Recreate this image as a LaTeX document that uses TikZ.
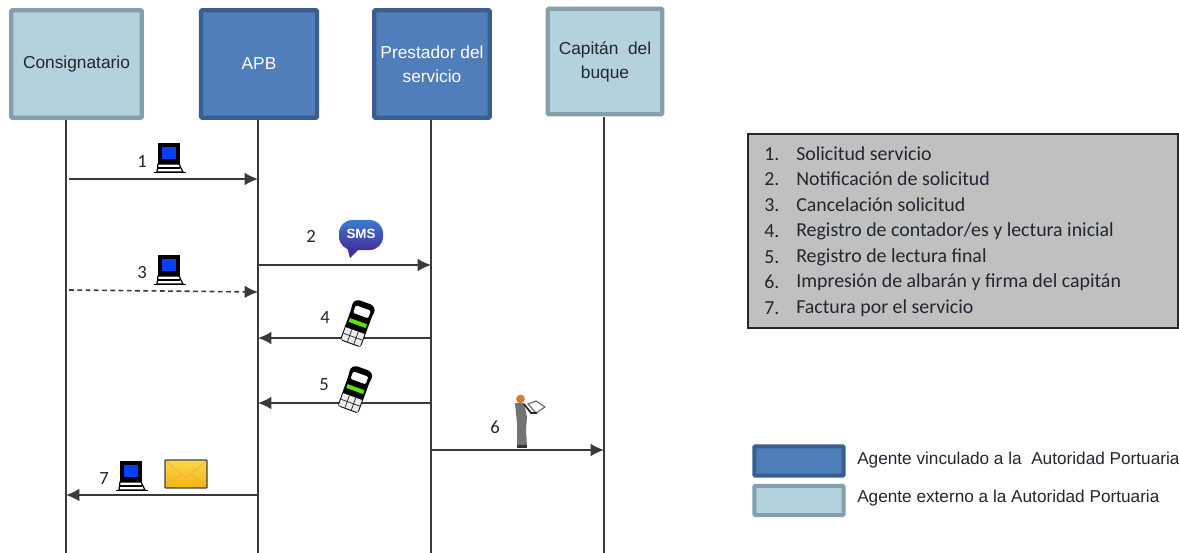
\documentclass[tikz,border=0pt]{standalone}
\usepackage{fontspec}
\setmainfont{Liberation Sans}
\newfontfamily\calfont{Carlito}
\usetikzlibrary{arrows.meta}
\definecolor{linecol}{HTML}{3A3A3A}
\definecolor{intfill}{HTML}{4F7EBA}
\definecolor{intedge}{HTML}{3A5F8E}
\definecolor{extfill}{HTML}{B4D2DE}
\definecolor{extedge}{HTML}{83A0AA}
\definecolor{notefill}{HTML}{C0C0C0}
\definecolor{textcol}{HTML}{22262E}
\definecolor{screenblue}{HTML}{0A40F5}
\definecolor{smstop}{HTML}{3C7AD2}
\definecolor{smsbot}{HTML}{43309E}
\definecolor{mailtop}{HTML}{FAD94A}
\definecolor{mailbot}{HTML}{F2B512}
\tikzset{
  intbox/.style={draw=intedge, fill=intfill, line width=3.2pt, rounded corners=0.8pt, text=white, align=center, font=\fontsize{13}{18}\selectfont},
  extbox/.style={draw=extedge, fill=extfill, line width=3.2pt, rounded corners=0.8pt, text=textcol, align=center, font=\fontsize{13}{18}\selectfont},
  swatch/.style={line width=3pt, rounded corners=0.8pt},
  life/.style={draw=linecol, line width=1.1pt},
  msg/.style={draw=linecol, line width=1.2pt, -{Latex[length=10pt,width=9.5pt]}},
  num/.style={text=textcol, font=\calfont\fontsize{14}{16}\selectfont},
  note/.style={text=textcol, anchor=west, font=\calfont\fontsize{14.9}{17}\selectfont},
  legendtxt/.style={text=textcol, anchor=west, font=\fontsize{12.9}{15}\selectfont},
  computer/.pic={
    \fill[black] (-12,-15) rectangle (10,7);
    \fill[screenblue] (-8,-11) rectangle (6,1);
    \draw[black, line width=0.9pt, fill=white] (-12,6) -- (9,6) -- (13,14) -- (-13,14) -- cycle;
    \draw[black, line width=0.8pt] (-13,10) -- (10,10);
    \draw[black, line width=1.4pt] (-16,14.5) -- (16,14.5);
  },
  phone/.pic={
    \fill[black, rounded corners=2pt] (-12,-19) -- (-8,-23) -- (8,-23) -- (12,-19) -- (11,-12) -- (11,21) -- (-11,21) -- (-11,-12) -- cycle;
    \fill[white, rounded corners=1pt] (-8,-17) rectangle (8,-9);
    \fill[green!60!yellow!90!black] (-9,-3) rectangle (9,1);
    \fill[gray!15] (-10,7) rectangle (10,20);
    \draw[black!80, line width=0.6pt] (-3.4,7) -- (-3.4,20) (3.4,7) -- (3.4,20) (-10,13.5) -- (10,13.5);
  },
  smsicon/.pic={
    \shade[top color=smstop, bottom color=smsbot, rounded corners=10pt]
      (-22,-15) rectangle (22,15);
    \fill[smsbot] (-14,12) -- (-11,23) -- (-2,14) -- cycle;
    \node[text=white, font=\bfseries\fontsize{10}{11}\selectfont] (-txt) at (0,-1) {SMS};
  },
  mailicon/.pic={
    \shade[top color=mailtop, bottom color=mailbot, draw=black!75, line width=1pt, rounded corners=0.6pt]
      (-21,-14) rectangle (21,14);
    \draw[orange!70!brown!70, line width=0.5pt] (-20,-13) -- (0,4) -- (20,-13) (-20,13) -- (-5,0) (20,13) -- (5,0);
  },
  captainicon/.pic={
    \fill[gray!90!black] (-10,-21) -- (-1,-21) -- (2,-7) -- (1,6) -- (2,22) -- (-8,22) -- (-8,-1) -- cycle;
    \fill[black!80] (-8,21) rectangle (2,24);
    \fill[brown!75!orange] (-4.5,-25) circle (4.4);
    \draw[black!60, line width=0.8pt, fill=white] (3,-20) -- (11,-23) -- (20,-17) -- (11,-11) -- cycle;
    \draw[black!85, line width=1.3pt] (-1,-20) -- (6,-11) -- (12,-11);
  },
}
\begin{document}
\begin{tikzpicture}[x=0.75pt,y=-0.75pt]
  \useasboundingbox (0,0) rectangle (1179,553);

  \node[extbox, minimum width=98pt, minimum height=80.5pt] (cons) at (76.5,64) {Consignatario};
  \node[intbox, minimum width=87pt, minimum height=80.5pt] (apb) at (259,64) {APB};
  \node[intbox, minimum width=86.5pt, minimum height=80.5pt] (prest) at (432,64) {Prestador del\\servicio};
  \node[extbox, minimum width=86pt, minimum height=79pt] (capt) at (605,61.5) {Capitán\ \ del\\buque};

  \coordinate (consend) at (66,553);
  \coordinate (apbend) at (258,553);
  \coordinate (prestend) at (431,553);
  \coordinate (captend) at (604,553);
  \coordinate (constop) at (66,120);
  \coordinate (apbtop) at (258,120);
  \coordinate (presttop) at (431,120);
  \coordinate (capttop) at (604,117);
  \draw[life] (constop) -- (consend);
  \draw[life] (apbtop) -- (apbend);
  \draw[life] (presttop) -- (prestend);
  \draw[life] (capttop) -- (captend);

  \coordinate (m1a) at (69,179);   \coordinate (m1b) at (258,179);
  \coordinate (m2a) at (258,265);  \coordinate (m2b) at (431,265);
  \coordinate (m3a) at (69,290);   \coordinate (m3b) at (258,292);
  \coordinate (m4a) at (431,338);  \coordinate (m4b) at (258,338);
  \coordinate (m5a) at (431,403);  \coordinate (m5b) at (258,403);
  \coordinate (m6a) at (431,450);  \coordinate (m6b) at (604,450);
  \coordinate (m7a) at (258,495);  \coordinate (m7b) at (66,495);
  \draw[msg] (m1a) -- (m1b);
  \draw[msg] (m2a) -- (m2b);
  \draw[msg, dash pattern=on 3.6pt off 2.6pt] (m3a) -- (m3b);
  \draw[msg] (m4a) -- (m4b);
  \draw[msg] (m5a) -- (m5b);
  \draw[msg] (m6a) -- (m6b);
  \draw[msg] (m7a) -- (m7b);

  \node[num] (n1) at (142,161) {1};
  \node[num] (n2) at (311,236) {2};
  \node[num] (n3) at (142,273) {3};
  \node[num] (n4) at (325,318) {4};
  \node[num] (n5) at (324,385) {5};
  \node[num] (n6) at (495,427) {6};
  \node[num] (n7) at (104,479) {7};

  \pic at (170,158) {computer};
  \pic at (170,270) {computer};
  \pic at (132,476) {computer};
  \pic at (361,235) {smsicon};
  \pic[rotate=-20] at (357.5,324) {phone};
  \pic[rotate=-20] at (355,390) {phone};
  \pic at (525,424) {captainicon};
  \pic at (186,474) {mailicon};

  % numbered list
  \node[draw=black!85, fill=notefill, line width=1.3pt, minimum width=322pt, minimum height=145pt] (notebox) at (963,231) {};
  \foreach \n/\y/\txt in {1/154/{Solicitud servicio},
                          2/179/{Notificación de solicitud},
                          3/205/{Cancelación solicitud},
                          4/231/{Registro de contador/es y lectura inicial},
                          5/257/{Registro de lectura final},
                          6/282/{Impresión de albarán y firma del capitán},
                          7/308/{Factura por el servicio}}{
    \node[note, inner sep=0pt] (num\n) at (764,\y) {\n.};
    \node[note, inner sep=0pt] (item\n) at (796,\y) {\txt};
  }

  \node[swatch, draw=intedge, fill=intfill, minimum width=67pt, minimum height=22pt] (keyint) at (799,461) {};
  \node[swatch, draw=extedge, fill=extfill, minimum width=67pt, minimum height=22pt] (keyext) at (799,500.5) {};
  \node[legendtxt, inner sep=0pt] (txtint) at (857,460) {Agente vinculado a la\ \ Autoridad Portuaria};
  \node[legendtxt, inner sep=0pt] (txtext) at (857,498) {Agente externo a la Autoridad Portuaria};
\end{tikzpicture}
\end{document}
